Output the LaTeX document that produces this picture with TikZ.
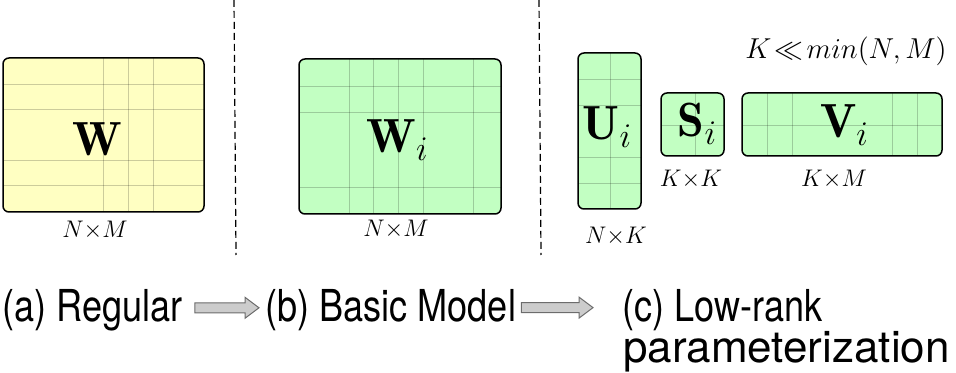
\documentclass[tikz,border=0pt]{standalone}
\usepackage{amsmath,amssymb}
\usepackage{fontspec}
\newfontfamily\capfont{TeX Gyre Heros}
\usetikzlibrary{calc}

\definecolor{matyellow}{RGB}{255,255,194}
\definecolor{matgreen}{RGB}{194,255,194}
\newcommand{\narrowcap}[1]{\scalebox{0.82}[1]{#1}}

\begin{document}
\begin{tikzpicture}[x=0.5pt,y=-0.5pt,
  matbox/.style={draw=black,line width=0.75pt,rounded corners=3pt},
  gridln/.style={draw=black,draw opacity=0.2,line width=0.4pt},
  sepline/.style={dash pattern=on 3.5pt off 2pt,line width=0.6pt},
  biglbl/.style={anchor=base,inner sep=0pt,font=\fontsize{24}{28}\selectfont},
  dimlbl/.style={inner sep=0pt,font=\large},
  caplbl/.style={anchor=base west,inner sep=0pt,font=\capfont\fontsize{22}{26}\selectfont},
  fatarrow/.style={draw=gray!85!black,fill=gray!40,line width=0.5pt,
    to path={let \p1=(\tikztostart),\p2=(\tikztotarget) in
      (\x1,\y1+2.5pt) -- (\x2-7pt,\y1+2.5pt) -- (\x2-7pt,\y1+5.25pt) -- (\x2,\y1)
      -- (\x2-7pt,\y1-5.25pt) -- (\x2-7pt,\y1-2.5pt) -- (\x1,\y1-2.5pt) -- cycle}}]
\useasboundingbox (0,0) rectangle (956,373);

% separators
\draw[sepline] (234,0) -- (236,255);
\draw[sepline] (539,0) -- (541,255);

% (a) regular
\fill[matyellow,rounded corners=3pt] (3,58) rectangle (204,212);
\foreach \gx in {103,128,153} \draw[gridln] (\gx,58) -- (\gx,212);
\foreach \gy in {84,109,160,185} \draw[gridln] (3,\gy) -- (204,\gy);
\draw[matbox] (3,58) rectangle (204,212);
\node[biglbl] (W) at (97,156) {$\mathbf{W}$};
\node[dimlbl] (Wdim) at (95,230) {$N{\times}M$};

% (b) basic model
\fill[matgreen,rounded corners=3pt] (299,59) rectangle (501,214);
\foreach \gx in {349,373,398,423,473} \draw[gridln] (\gx,59) -- (\gx,214);
\foreach \gy in {86,112,187} \draw[gridln] (299,\gy) -- (501,\gy);
\draw[matbox] (299,59) rectangle (501,214);
\node[biglbl] (Wi) at (397.5,153) {$\mathbf{W}_i$};
\node[dimlbl] (Widim) at (396,229) {$N{\times}M$};

% (c) low-rank factors
\fill[matgreen,rounded corners=3pt] (578,53) rectangle (641,209);
\draw[gridln] (610,53) -- (610,209);
\foreach \gy in {79,105,157,183} \draw[gridln] (578,\gy) -- (641,\gy);
\draw[matbox] (578,53) rectangle (641,209);
\node[biglbl] (Ui) at (607.5,140) {$\mathbf{U}_i$};
\node[dimlbl] (Uidim) at (616,236) {$N{\times}K$};

\fill[matgreen,rounded corners=3pt] (661,93) rectangle (724,156);
\draw[gridln] (695,93) -- (695,156);
\draw[gridln] (661,125) -- (724,125);
\draw[matbox] (661,93) rectangle (724,156);
\node[biglbl] (Si) at (697.5,137) {$\mathbf{S}_i$};
\node[dimlbl] (Sidim) at (691,179.5) {$K{\times}K$};

\fill[matgreen,rounded corners=3pt] (742,93) rectangle (942,156);
\foreach \gx in {767,792,892,917} \draw[gridln] (\gx,93) -- (\gx,156);
\draw[gridln] (742,125) -- (942,125);
\draw[matbox] (742,93) rectangle (942,156);
\node[biglbl] (Vi) at (844.5,138) {$\mathbf{V}_i$};
\node[dimlbl] (Vidim) at (834,179.5) {$K{\times}M$};

\node[inner sep=0pt,font=\Large] (rank) at (846,51) {$K\!\ll\! min(N,M)$};

% captions
\node[caplbl] (capA) at (2,321) {\narrowcap{(a) Regular}};
\node[caplbl] (capB) at (265,321) {\narrowcap{(b) Basic Model}};
\node[caplbl] (capC) at (622,321) {\narrowcap{(c) Low-rank}};
\node[caplbl] (capC2) at (623,362) {parameterization};

\path[fatarrow] ([xshift=6pt,yshift=1pt]capA.east) to ([xshift=-3pt,yshift=1pt]capB.west);
\path[fatarrow] ([xshift=2.5pt,yshift=1pt]capB.east) to ([xshift=-14.5pt,yshift=1pt]capC.west);
\end{tikzpicture}
\end{document}
